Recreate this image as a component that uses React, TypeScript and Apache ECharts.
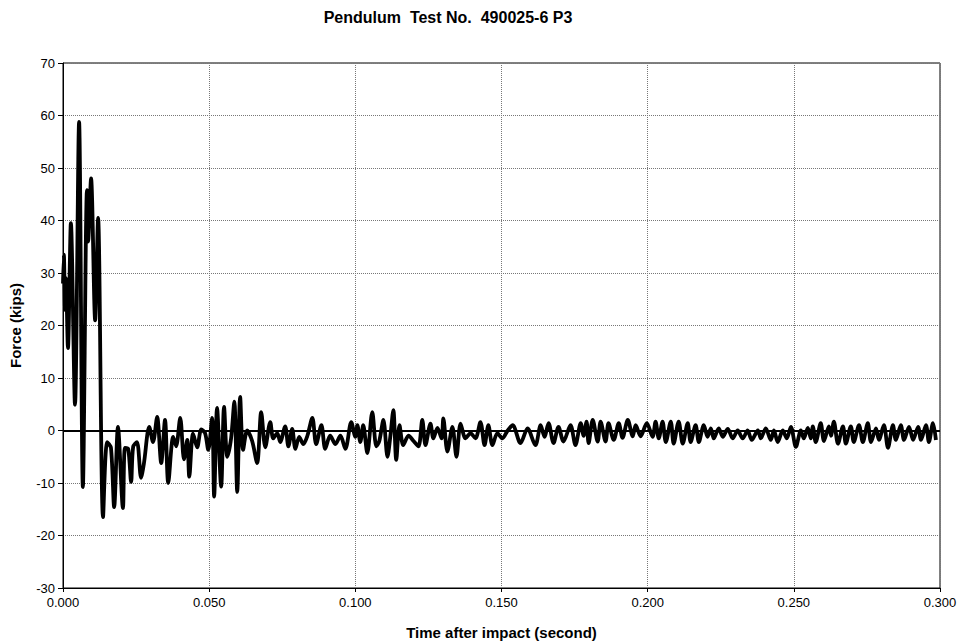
import React, { useEffect, useRef } from "react";
import * as echarts from "echarts";

const timeS: number[] = [
  0, 0.0003, 0.0007, 0.001, 0.0017, 0.0027, 0.0041, 0.0055, 0.0068, 0.0082,
  0.0086, 0.0096, 0.011, 0.012, 0.0137, 0.0151, 0.0164, 0.0175, 0.0188, 0.0205,
  0.0212, 0.0223, 0.0233, 0.024, 0.0253, 0.0267, 0.0277, 0.0295, 0.0308, 0.0322,
  0.0336, 0.0349, 0.036, 0.0377, 0.0387, 0.0401, 0.0414, 0.0425, 0.0432, 0.0445,
  0.0459, 0.0473, 0.0486, 0.0497, 0.051, 0.0517, 0.0527, 0.0541, 0.0551, 0.0562,
  0.0575, 0.0586, 0.0596, 0.0606, 0.0616, 0.063, 0.0647, 0.0664, 0.0678, 0.0692,
  0.0709, 0.0719, 0.0733, 0.0743, 0.076, 0.0771, 0.0784, 0.0795, 0.0808, 0.0822,
  0.0836, 0.0853, 0.0866, 0.0884, 0.0897, 0.0914, 0.0932, 0.0949, 0.0966, 0.0986,
  0.1, 0.1007, 0.1017, 0.1027, 0.1041, 0.1058, 0.1072, 0.1082, 0.1096, 0.111,
  0.112, 0.113, 0.114, 0.1151, 0.1164, 0.1182, 0.1199, 0.1216, 0.1229, 0.124,
  0.1257, 0.1267, 0.1281, 0.1295, 0.1301, 0.1315, 0.1332, 0.1346, 0.136, 0.1377,
  0.1394, 0.1411, 0.1428, 0.1442, 0.1455, 0.1469, 0.1486, 0.1503, 0.1521, 0.1538,
  0.1565, 0.1589, 0.1616, 0.1634, 0.1647, 0.1661, 0.1678, 0.1695, 0.1712, 0.1736,
  0.1753, 0.1771, 0.1781, 0.1791, 0.1798, 0.1812, 0.1829, 0.1839, 0.1856, 0.1866,
  0.1884, 0.1901, 0.1914, 0.1932, 0.1949, 0.1959, 0.1976, 0.1997, 0.2017, 0.2027,
  0.2038, 0.2051, 0.2062, 0.2079, 0.2089, 0.2106, 0.212, 0.2137, 0.2147, 0.2164,
  0.2175, 0.2192, 0.2205, 0.2216, 0.2226, 0.2243, 0.2257, 0.2274, 0.2291, 0.2308,
  0.2325, 0.2342, 0.2356, 0.2377, 0.2387, 0.2404, 0.2421, 0.2432, 0.2445, 0.2462,
  0.2476, 0.249, 0.2507, 0.2524, 0.2534, 0.2548, 0.2558, 0.2565, 0.2575, 0.2592,
  0.2603, 0.262, 0.2627, 0.2637, 0.2651, 0.2668, 0.2678, 0.2695, 0.2705, 0.2723,
  0.2736, 0.2753, 0.2764, 0.2781, 0.2791, 0.2808, 0.2822, 0.2839, 0.2849, 0.2866,
  0.2877, 0.2894, 0.2908, 0.2925, 0.2935, 0.2952, 0.2962, 0.2976, 0.2986,
];

const forceKips: number[] = [
  28, 33.5, 23, 29, 15.7, 39.5, 4.9, 58.8, -10.8, 45.8,
  36, 48, 21, 40.5, -16.5, -2.2, -3.3, -14.6, 0.7, -14.8,
  -3.3, -3.5, -9.8, -3.1, -2.2, -9, -6.2, 0.7, -2.2, 2.6,
  -6.2, 2, -10, -1.2, -3, 2.4, -5.5, -1.8, -8.8, -0.6,
  -3.2, 0.2, -0.5, -3.7, 2.4, -12.6, 4.3, -10.7, 4.5, -5,
  -1.5, 5.5, -11.7, 6.4, -3.7, 0, -2, -6.2, 3.5, -3.2,
  1.6, -1.5, -0.5, -2.2, 0.8, -3, 0.3, -3.5, -1.2, -2.6,
  -1, 2.4, -2.6, 1, -3.5, -1, -2.6, -1, -3.5, 1.6,
  -1.2, 1, -2.2, 1, -4.3, 3.5, -3, -2, 2, -5,
  -1, 3.9, -5.6, 1, -2.8, -1, -2, -3, 2, -2.8,
  1.3, -1.5, 0.5, -1.5, 2.3, -4, 0.7, -5, 1.3, -1.5,
  -0.5, -1.5, 1.6, -2.8, 1, -2.8, -0.5, -1.5, 0, 1,
  -2.4, 0.4, -2.8, 1, -1.2, 1.4, -2.4, 0.7, -2.1, 1,
  -2.8, 1.4, -1, 1.7, -2.4, 2, -2.1, 1.7, -2.1, 1.4,
  -1.8, 1.4, -1.4, 2, -1.1, 1, -1.1, 1.4, -1.2, 1.7,
  -1.5, 1.7, -2.2, 1.7, -2.5, 1.7, -2.5, 1.4, -2.2, 1,
  -2.2, 1, -1.2, 0.4, -1.5, 0.4, -1.2, 0.3, -1.5, 0,
  -1.5, 0, -1.8, 0, -1.5, 0.4, -1.8, 0, -2.2, 0,
  -1.5, 0.7, -3.1, 0, -1.5, 0.5, -1.5, 0.8, -2.2, 1.4,
  -2, 0.8, -1, 1.7, -2.5, 0.8, -2.5, 0.8, -2.2, 1,
  -2.2, 1.4, -2.2, 0.4, -1.8, 1, -3.3, 1, -1.8, 1,
  -1.8, 0.7, -1.8, 0.7, -1.8, 1, -2.2, 1.4, -1.8,
];

const titleText = "Pendulum  Test No.  490025-6 P3";
const xAxisName = "Time after impact (second)";
const yAxisName = "Force (kips)";

export default function App() {
  const ref = useRef<HTMLDivElement>(null);
  useEffect(() => {
    if (!ref.current) return;
    const chart = echarts.init(ref.current, null, { renderer: "svg" });
    const font = "'Liberation Sans', Arial, sans-serif";
    chart.setOption({
      animation: false,
      backgroundColor: "#fff",
      textStyle: { fontFamily: font },
      title: {
        text: titleText,
        left: 448,
        top: 8,
        padding: [1, 0, 0, 0],
        textAlign: "center",
        textStyle: { fontSize: 16, fontWeight: "bold", color: "#000", fontFamily: font },
      },
      grid: {
        left: 63,
        right: 18,
        top: 63,
        bottom: 55,
        containLabel: false,
        outerBoundsMode: "none",
        show: true,
        borderColor: "#000",
        borderWidth: 1,
        backgroundColor: "transparent",
      },
      xAxis: {
        type: "value",
        min: 0,
        max: 0.3,
        interval: 0.05,
        name: xAxisName,
        nameLocation: "middle",
        nameGap: 37,
        nameTextStyle: { fontSize: 15, fontWeight: "bold", color: "#000" },
        axisLine: { show: true, onZero: false, lineStyle: { color: "#000", width: 1 } },
        axisTick: { show: true, inside: false, length: 4, lineStyle: { color: "#000" } },
        axisLabel: {
          fontSize: 13,
          color: "#000",
          margin: 8,
          formatter: (v: number) => v.toFixed(3),
        },
        splitLine: { show: true, lineStyle: { color: "#777", type: [1, 1], width: 1 } },
      },
      yAxis: {
        type: "value",
        min: -30,
        max: 70,
        interval: 10,
        name: yAxisName,
        nameLocation: "middle",
        nameGap: 40,
        nameRotate: 90,
        nameTextStyle: { fontSize: 15, fontWeight: "bold", color: "#000" },
        axisLine: { show: true, onZero: false, lineStyle: { color: "#000", width: 1 } },
        axisTick: { show: true, inside: false, length: 5, lineStyle: { color: "#000" } },
        axisLabel: { fontSize: 13, color: "#000", margin: 8 },
        splitLine: { show: true, lineStyle: { color: "#777", type: [1, 1], width: 1 } },
      },
      series: [
        {
          type: "line",
          data: timeS.map((t, i) => [t, forceKips[i]]),
          showSymbol: false,
          symbol: "none",
          smooth: 0.3,
          lineStyle: { color: "#000", width: 3.8 },
          z: 3,
          markLine: {
            silent: true,
            symbol: "none",
            label: { show: false },
            lineStyle: { color: "#000", width: 2, type: "solid" },
            data: [{ yAxis: 0 }],
            z: 2,
          },
        },
      ],
    });
    return () => chart.dispose();
  }, []);
  return (
    <div
      ref={ref}
      style={{ position: "absolute", left: 0, top: 0, width: 958, height: 643 }}
    />
  );
}
